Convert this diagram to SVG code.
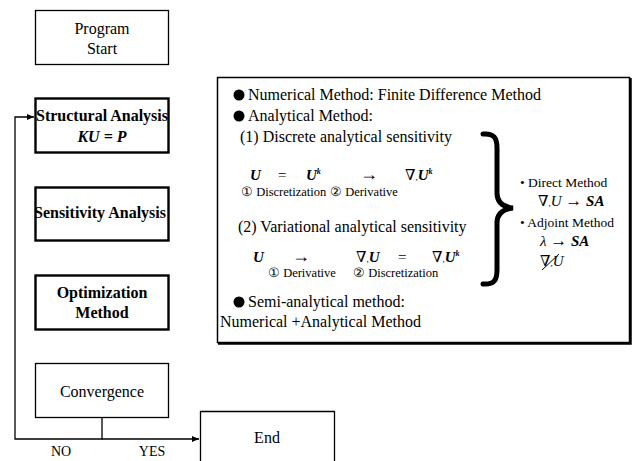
<svg xmlns="http://www.w3.org/2000/svg" width="634" height="461" viewBox="0 0 634 461">
<defs>
<marker id="arr" markerWidth="8" markerHeight="8" refX="7" refY="4" orient="auto" markerUnits="userSpaceOnUse">
<path d="M0,1 L7,4 L0,7 z" fill="#000"/>
</marker>
<style>
text{fill:#000}
.t{font-size:16px}
.b{font-size:16px;font-weight:bold}
.u{font-size:16px}
.m{font-size:15px}
.s{font-size:12.5px}
.n{font-size:14px}
.r{font-size:13.5px}
.bi{font-weight:bold;font-style:italic}
.box{fill:#fff;stroke:#000;stroke-width:1.3}
.tbox{fill:#fff;stroke:#000;stroke-width:2.4}
.ln{fill:none;stroke:#000;stroke-width:1.3}
</style>
</defs>
<rect width="634" height="461" fill="#fff"/>
<g font-family="'Liberation Serif', 'DejaVu Serif', serif">
<g id="connectors">
<path class="ln" d="M102,417 V439 H15 V117 H34" marker-end="url(#arr)"/>
<path class="ln" d="M102,439 H199" marker-end="url(#arr)"/>
<text class="n" x="61" y="456" text-anchor="middle">NO</text>
<text class="n" x="152" y="456" text-anchor="middle">YES</text>
</g>

<g id="start">
<rect class="box" x="35.5" y="10.5" width="133" height="54"/>
<text class="t" x="102" y="34" text-anchor="middle">Program</text>
<text class="t" x="102" y="54" text-anchor="middle">Start</text>
</g>

<g id="structural">
<rect class="tbox" x="35.5" y="98.5" width="133" height="54"/>
<text class="b" x="102" y="121" text-anchor="middle">Structural Analysis</text>
<text class="b" x="102" y="142" text-anchor="middle" font-style="italic">KU = P</text>
</g>

<g id="sensitivity">
<rect class="tbox" x="35.5" y="187.5" width="133" height="53"/>
<text class="b" x="100" y="218" text-anchor="middle">Sensitivity Analysis</text>
</g>

<g id="optimization">
<rect class="tbox" x="35.5" y="275.5" width="133" height="54"/>
<text class="b" x="102" y="298" text-anchor="middle">Optimization</text>
<text class="b" x="102" y="318" text-anchor="middle">Method</text>
</g>

<g id="convergence">
<rect class="box" x="35.5" y="363.5" width="133" height="54"/>
<text class="t" x="102" y="397" text-anchor="middle">Convergence</text>
</g>

<g id="end">
<path class="box" d="M200.5,468 V411.5 H334.5 V468"/>
<text class="t" x="267" y="443" text-anchor="middle">End</text>
</g>

<g id="methods">
<rect x="217.5" y="77.5" width="412" height="265" fill="#fff" stroke="#000" stroke-width="1.5"/>
<path d="M630.5,78 V343.5 H218" fill="none" stroke="#000" stroke-width="2.5"/>

<circle cx="239" cy="95" r="5.5"/>
<text class="u" x="248" y="100">Numerical Method: Finite Difference Method</text>
<circle cx="239" cy="116" r="5.5"/>
<text class="u" x="248" y="121">Analytical Method:</text>
<text class="u" x="240" y="142">(1) Discrete analytical sensitivity</text>

<text class="m" y="180"><tspan class="bi" x="250">U</tspan><tspan x="278">=</tspan><tspan class="bi" x="306">U</tspan><tspan class="bi" font-size="8" dy="-6">k</tspan><tspan x="360" dy="6" font-size="18">→</tspan><tspan x="405">∇</tspan><tspan font-size="9">,</tspan><tspan class="bi">U</tspan><tspan class="bi" font-size="8" dy="-6">k</tspan></text>
<text class="s" x="241" y="196">① Discretization</text>
<text class="s" x="330" y="196">② Derivative</text>

<text class="u" x="238" y="232">(2) Variational analytical sensitivity</text>
<text class="m" y="262"><tspan class="bi" x="253">U</tspan><tspan x="292" font-size="18">→</tspan><tspan x="356">∇</tspan><tspan font-size="9">,</tspan><tspan class="bi">U</tspan><tspan x="398">=</tspan><tspan x="432">∇</tspan><tspan font-size="9">,</tspan><tspan class="bi">U</tspan><tspan class="bi" font-size="8" dy="-6">k</tspan></text>
<text class="s" x="268" y="277">① Derivative</text>
<text class="s" x="353" y="277">② Discretization</text>

<circle cx="239" cy="302" r="5.5"/>
<text class="u" x="248" y="307">Semi-analytical method:</text>
<text class="u" x="220" y="327">Numerical +Analytical Method</text>

<path d="M483,134 C494,133 497,138 497,148 V193 C497,202 503,207 513,208 C503,209 497,214 497,223 V270 C497,280 494,285 483,284" fill="none" stroke="#000" stroke-width="5" stroke-linecap="round"/>

<text class="r" x="520" y="187">• Direct Method</text>
<text class="m" x="538" y="206">∇<tspan font-size="9">,</tspan><tspan font-style="italic">U</tspan> <tspan font-size="17">→</tspan> <tspan class="bi">SA</tspan></text>
<text class="r" x="520" y="227">• Adjoint Method</text>
<text class="m" x="540" y="246"><tspan font-style="italic">λ</tspan> <tspan font-size="17">→</tspan> <tspan class="bi">SA</tspan></text>
<text class="m" x="540" y="266">∇<tspan font-size="9">,</tspan><tspan font-style="italic">U</tspan></text>
<line x1="542" y1="270" x2="559" y2="254" stroke="#000" stroke-width="1"/>
</g>
</g>
</svg>
